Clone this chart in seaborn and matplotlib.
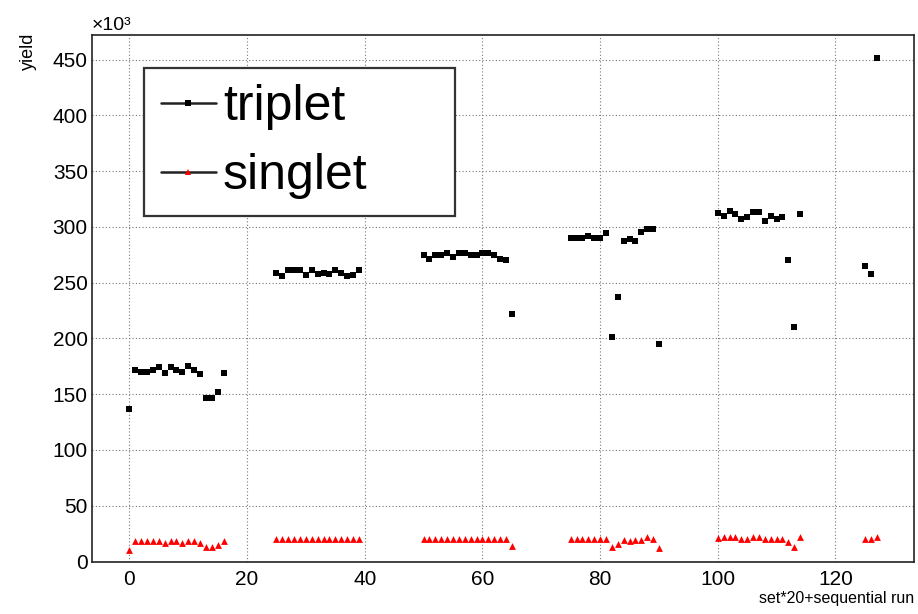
import numpy as np
import pandas as pd
import seaborn as sns
import matplotlib.pyplot as plt
from matplotlib.ticker import MultipleLocator
from matplotlib.lines import Line2D

# ---- data (yield in units of 10^3) ----
triplet_runs = list(range(0, 17)) + list(range(25, 40)) + list(range(50, 66)) + \
    list(range(75, 91)) + list(range(100, 115)) + list(range(125, 128))
triplet_yield = [
    137, 172, 170, 170, 172, 174, 169, 174, 172, 170, 175, 172, 168, 147, 147, 152, 169,
    259, 255.5, 261, 261, 261, 256.5, 261, 258, 259, 258, 261, 259, 255.5, 256.5, 261,
    274.5, 271, 274.5, 274.5, 277, 273, 277, 277, 274.5, 274.5, 277, 277, 274.5, 271, 270, 222,
    290, 290, 290, 292, 290, 290, 294.5, 201, 237.5, 287.5, 289, 287.5, 295, 298, 298, 195,
    312, 310, 314.5, 311.5, 307, 309, 313, 313, 305, 310, 307, 309, 270.5, 210, 311.5,
    264.5, 258, 451,
]
singlet_runs = list(triplet_runs)
singlet_yield = [
    10.5, 18.8, 18.8, 18.8, 18.8, 18.8, 17, 18.8, 18.8, 17, 18.8, 18.8, 17, 13, 13, 15, 18.8,
    20, 20, 20, 20, 20, 20, 20, 20, 20, 20, 20, 20, 20, 20, 20,
    20.3, 20.3, 20.3, 20.3, 20.3, 20.3, 20.3, 20.3, 20.3, 20.3, 20.3, 20.3, 20.3, 20.3, 20.3, 14.3,
    20.3, 20.3, 20.3, 20.3, 20.3, 20.3, 20.3, 13.4, 15.8, 19.6, 18.8, 19.6, 19.6, 21.8, 20.3, 12.2,
    21.2, 21.8, 21.8, 21.8, 20.3, 20.3, 21.8, 21.8, 20.3, 20.3, 20.3, 20.3, 17.3, 12.9, 21.8,
    20.3, 20.3, 21.8,
]
series_names = ["triplet", "singlet"]
x_label = "set*20+sequential run"
y_label = "yield"

trip_df = pd.DataFrame({"run": triplet_runs, "yield": triplet_yield})
sing_df = pd.DataFrame({"run": singlet_runs, "yield": singlet_yield})

sns.set_theme(style="white")
plt.rcParams['font.family'] = ['Liberation Sans', 'DejaVu Sans']
plt.rcParams['text.color'] = 'black'

fig = plt.figure(figsize=(9.18, 6.14), dpi=100)
ax = fig.add_axes([92 / 918, 1 - 561.5 / 614, 822 / 918, 526.5 / 614])

sns.scatterplot(data=trip_df, x="run", y="yield", marker="s", color="black",
                s=20, linewidth=0, ax=ax, legend=False, zorder=3)
sns.scatterplot(data=sing_df, x="run", y="yield", marker="^", color="red",
                s=24, linewidth=0, ax=ax, legend=False, zorder=3)

ax.set_xlim(-6.35, 133.35)
ax.set_ylim(0, 472)
ax.xaxis.set_major_locator(MultipleLocator(20))
ax.xaxis.set_minor_locator(MultipleLocator(5))
ax.yaxis.set_major_locator(MultipleLocator(50))
ax.yaxis.set_minor_locator(MultipleLocator(10))

ax.tick_params(axis='both', which='both', direction='in', color='#222222', width=1.1,
               labelsize=15, labelcolor='black')
ax.tick_params(axis='x', which='major', length=10.8, pad=6)
ax.tick_params(axis='x', which='minor', length=5)
ax.tick_params(axis='y', which='major', length=15.8, pad=3)
ax.tick_params(axis='y', which='minor', length=7.9)

for sp in ax.spines.values():
    sp.set_color('#222222')
    sp.set_linewidth(1.2)

ax.grid(True, which='major', color='#777777', linestyle=(0, (1, 2)), linewidth=0.8, zorder=0)
ax.set_axisbelow(True)
ax.set_xlabel("")
ax.set_ylabel("")

fig.text(28 / 918, 1 - 33 / 614, y_label, rotation=90, ha='center', va='top',
         fontsize=13, color='black')
fig.text(914 / 918, 1 - 598 / 614, x_label, ha='right', va='center', fontsize=11.5,
         color='black')
fig.text(92 / 918, 1 - 30 / 614, "×10³", ha='left', va='baseline', fontsize=14,
         color='black')

handles = [
    Line2D([], [], color='#222222', lw=1.8, marker='s', markersize=4, markerfacecolor='black',
           markeredgewidth=0),
    Line2D([], [], color='#222222', lw=1.8, marker='^', markersize=4, markerfacecolor='red',
           markeredgewidth=0),
]
leg = ax.legend(handles, series_names, loc='upper left',
                bbox_to_anchor=(144 / 918, 1 - 208 / 614, 311 / 918, 140 / 614),
                bbox_transform=fig.transFigure, mode='expand',
                fontsize=36, frameon=True, fancybox=False, framealpha=1,
                edgecolor='#333333', handlelength=1.1, handletextpad=0.15,
                labelspacing=0.45, borderpad=0.33, borderaxespad=0, labelcolor='black')
leg.get_frame().set_linewidth(1.6)

fig.savefig("out.png", dpi=100)
